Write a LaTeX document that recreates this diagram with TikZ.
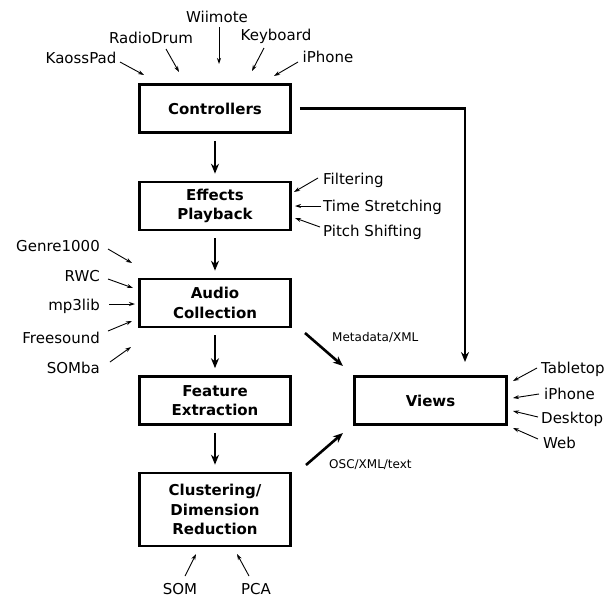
\documentclass[tikz,border=0pt]{standalone}
\usepackage{fontspec}
\setmainfont{DejaVu Sans}
\usetikzlibrary{arrows.meta}
\tikzset{
  stage/.style={draw, line width=2.6pt, minimum width=151pt, minimum height=48pt,
    inner sep=0pt, align=center, font=\fontsize{15}{19.5}\selectfont\bfseries},
  lbl/.style={inner sep=0pt, font=\fontsize{15}{18}\selectfont},
  small/.style={inner sep=0pt, font=\fontsize{12}{14}\selectfont},
  feed/.style={line width=0.9pt, -{Stealth[length=6pt,width=4pt]}},
  flow/.style={line width=2.6pt, -{Stealth[length=10pt,width=8pt]}},
}
\begin{document}
\begin{tikzpicture}[x=1pt,y=-1pt]
\useasboundingbox (0,0) rectangle (613,598);

% processing chain
\node[stage] (ctrl)  at (215,108.5) {Controllers};
\node[stage] (fx)    at (215,206)   {Effects\\Playback};
\node[stage] (audio) at (215,303)   {Audio\\Collection};
\node[stage] (feat)  at (215,400.5) {Feature\\Extraction};
\node[stage, minimum height=73pt] (clust) at (215,509.5) {Clustering/\\Dimension\\Reduction};
\node[stage, minimum width=152pt] (views) at (430.5,400.5) {Views};

\draw[flow, shorten <=7pt, shorten >=7pt] (ctrl) -- (fx);
\draw[flow, shorten <=7pt, shorten >=7pt] (fx) -- (audio);
\draw[flow, shorten <=7pt, shorten >=7pt] (audio) -- (feat);
\draw[flow, shorten <=7pt, shorten >=7pt] (feat) -- (clust);

% controllers feed the views directly
\coordinate (vtop) at (465,362);
\draw[flow, shorten <=8pt] (ctrl.east) -- (ctrl.east -| vtop) -- (vtop);

% data passed to the views
\coordinate (md0) at (305,333);
\coordinate (md1) at (343,366);
\coordinate (osc0) at (306,465);
\coordinate (osc1) at (343,433);
\draw[flow] (md0) -- (md1);
\draw[flow] (osc0) -- (osc1);
\node[small, anchor=base west] (mdl) at (332,341) {Metadata/XML};
\node[small, anchor=base west] (oscl) at (329,468) {OSC/XML/text};

% controller devices
\node[lbl, anchor=base] (kaoss) at (81,63)  {KaossPad};
\node[lbl, anchor=base] (radio) at (151,43) {RadioDrum};
\node[lbl, anchor=base] (wii)   at (217,22) {Wiimote};
\node[lbl, anchor=base] (keyb)  at (276,40) {Keyboard};
\node[lbl, anchor=base] (iphc)  at (328,62) {iPhone};
\coordinate (k0) at (120,62);  \coordinate (k1) at (144,75);
\coordinate (r0) at (166,49);  \coordinate (r1) at (179,72);
\coordinate (w0) at (219,27);  \coordinate (w1) at (219,64);
\coordinate (b0) at (264,48);  \coordinate (b1) at (252,71);
\coordinate (i0) at (298,62);  \coordinate (i1) at (274,76);
\draw[feed] (k0) -- (k1);
\draw[feed] (r0) -- (r1);
\draw[feed] (w0) -- (w1);
\draw[feed] (b0) -- (b1);
\draw[feed] (i0) -- (i1);

% effects
\node[lbl, anchor=base west] (filt)  at (323,184) {Filtering};
\node[lbl, anchor=base west] (tstr)  at (323,211) {Time Stretching};
\node[lbl, anchor=base west] (pshf)  at (323,236) {Pitch Shifting};
\coordinate (f0) at (318,178); \coordinate (f1) at (294,192);
\coordinate (t0) at (321,206); \coordinate (t1) at (295,206);
\coordinate (p0) at (320,227); \coordinate (p1) at (295,218);
\draw[feed] (f0) -- (f1);
\draw[feed] (t0) -- (t1);
\draw[feed] (p0) -- (p1);

% audio sources
\node[lbl, anchor=base east] (genre) at (100,251) {Genre1000};
\node[lbl, anchor=base east] (rwc)   at (100,281) {RWC};
\node[lbl, anchor=base east] (mp3)   at (100,310) {mp3lib};
\node[lbl, anchor=base east] (frees) at (100,343) {Freesound};
\node[lbl, anchor=base east] (somba) at (100,373) {SOMba};
\coordinate (g0) at (108,249); \coordinate (g1) at (132,263);
\coordinate (c0) at (108,279); \coordinate (c1) at (133,288);
\coordinate (m0) at (109,304); \coordinate (m1) at (135,304);
\coordinate (s0) at (108,331); \coordinate (s1) at (132,321);
\coordinate (o0) at (110,362); \coordinate (o1) at (131,347);
\draw[feed] (g0) -- (g1);
\draw[feed] (c0) -- (c1);
\draw[feed] (m0) -- (m1);
\draw[feed] (s0) -- (s1);
\draw[feed] (o0) -- (o1);

% view targets
\node[lbl, anchor=base west] (table) at (541,373) {Tabletop};
\node[lbl, anchor=base west] (iphv)  at (544,399) {iPhone};
\node[lbl, anchor=base west] (desk)  at (541,423) {Desktop};
\node[lbl, anchor=base west] (web)   at (543,448) {Web};
\coordinate (ta0) at (537,368); \coordinate (ta1) at (513,381);
\coordinate (ip0) at (539,394); \coordinate (ip1) at (513,398);
\coordinate (de0) at (538,417); \coordinate (de1) at (513,411);
\coordinate (we0) at (538,439); \coordinate (we1) at (513,428);
\draw[feed] (ta0) -- (ta1);
\draw[feed] (ip0) -- (ip1);
\draw[feed] (de0) -- (de1);
\draw[feed] (we0) -- (we1);

% reduction methods
\node[lbl, anchor=base] (som) at (180,594) {SOM};
\node[lbl, anchor=base] (pca) at (256,594) {PCA};
\coordinate (so0) at (185,576); \coordinate (so1) at (196,554);
\coordinate (pc0) at (249,576); \coordinate (pc1) at (237,554);
\draw[feed] (so0) -- (so1);
\draw[feed] (pc0) -- (pc1);
\end{tikzpicture}
\end{document}
